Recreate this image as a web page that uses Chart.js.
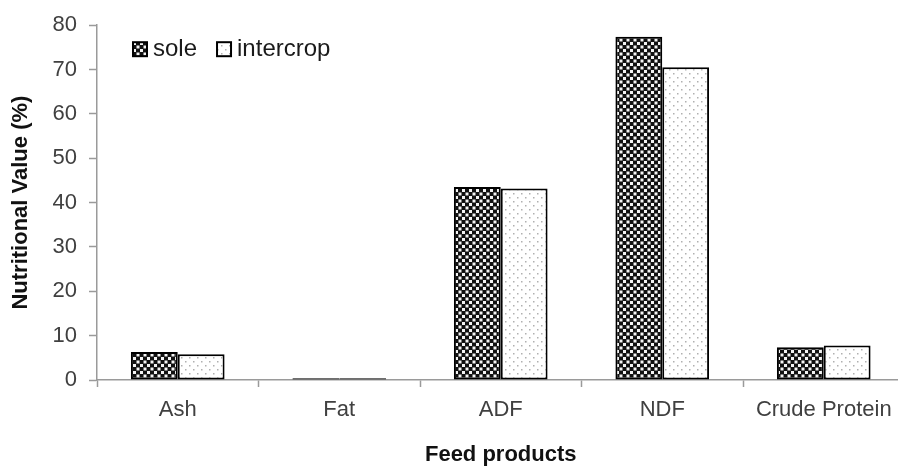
<!DOCTYPE html>
<html>
<head>
<meta charset="utf-8">
<script src="https://cdn.jsdelivr.net/npm/chart.js@4.4.1/dist/chart.umd.min.js"></script>
<style>
  html, body { margin: 0; padding: 0; background: #fff; overflow: hidden; }
  #wrap { position: relative; width: 906px; height: 468px; }
</style>
</head>
<body>
<div id="wrap"><canvas id="chart"></canvas></div>
<script>
// Feed product categories and nutritional values (%)
const categories = ['Ash', 'Fat', 'ADF', 'NDF', 'Crude Protein'];
const seriesNames = ['sole', 'intercrop'];
const soleValues = [6.3, 0.4, 43.5, 77.4, 7.4];
const intercropValues = [5.8, 0.4, 43.2, 70.5, 7.8];
const yTicks = [0, 10, 20, 30, 40, 50, 60, 70, 80];

const FONT = "'Liberation Sans', Arial, sans-serif";

// Dark checkered fill for "sole"
function checkerPattern() {
  const c = document.createElement('canvas');
  c.width = 7; c.height = 7;
  const g = c.getContext('2d');
  g.fillStyle = '#111';
  g.fillRect(0, 0, 7, 7);
  g.fillStyle = '#f4f4f4';
  g.fillRect(0, 0, 3, 3);
  g.fillRect(3.5, 3.5, 3, 3);
  return g.createPattern(c, 'repeat');
}

// Light dotted fill for "intercrop"
function dotPattern() {
  const c = document.createElement('canvas');
  c.width = 8; c.height = 8;
  const g = c.getContext('2d');
  g.fillStyle = '#ffffff';
  g.fillRect(0, 0, 8, 8);
  g.fillStyle = '#b0b0b0';
  g.fillRect(1, 1, 1.5, 1.5);
  g.fillRect(5, 5, 1.5, 1.5);
  return g.createPattern(c, 'repeat');
}

const fills = [checkerPattern(), dotPattern()];

// Legend drawn inside the plot area, top-left
const insideLegend = {
  id: 'insideLegend',
  afterDraw(chart) {
    const ctx = chart.ctx;
    const area = chart.chartArea;
    ctx.save();
    ctx.font = '24px ' + FONT;
    ctx.textBaseline = 'middle';
    let x = area.left + 36;
    const y = area.top + 24;
    const box = 14;
    chart.data.datasets.forEach((ds) => {
      ctx.fillStyle = ds.backgroundColor;
      ctx.fillRect(x, y - box / 2, box, box);
      ctx.lineWidth = 2;
      ctx.strokeStyle = '#000';
      ctx.strokeRect(x, y - box / 2, box, box);
      ctx.fillStyle = '#1a1a1a';
      ctx.fillText(ds.label, x + box + 6, y);
      x += box + 6 + ctx.measureText(ds.label).width + 20;
    });
    ctx.restore();
  }
};

new Chart(document.getElementById('chart'), {
  type: 'bar',
  data: {
    labels: categories,
    datasets: [
      {
        label: seriesNames[0],
        data: soleValues,
        backgroundColor: fills[0],
        borderColor: '#000',
        borderWidth: 2,
        borderSkipped: false
      },
      {
        label: seriesNames[1],
        data: intercropValues,
        backgroundColor: fills[1],
        borderColor: '#000',
        borderWidth: 2,
        borderSkipped: false
      }
    ]
  },
  options: {
    responsive: true,
    maintainAspectRatio: false,
    animation: false,
    devicePixelRatio: 1,
    layout: { padding: { top: 20, right: 1.5, left: 0, bottom: 0 } },
    datasets: { bar: { categoryPercentage: 0.58, barPercentage: 1.0 } },
    plugins: {
      legend: { display: false },
      tooltip: { enabled: false }
    },
    scales: {
      x: {
        afterFit(scale) { scale.height = 88; },
        grid: {
          offset: true,
          drawOnChartArea: false,
          drawTicks: true,
          tickLength: 7,
          tickColor: '#9a9a9a',
          tickWidth: 1.5
        },
        border: { color: '#9a9a9a', width: 1.5 },
        ticks: {
          color: '#404040',
          font: { family: FONT, size: 22 },
          padding: 10,
          maxRotation: 0,
          autoSkip: false
        },
        title: {
          display: true,
          text: 'Feed products',
          color: '#111',
          font: { family: FONT, size: 22, weight: 'bold' },
          padding: { top: 0, bottom: 0 }
        }
      },
      y: {
        min: 0,
        max: 80,
        afterFit(scale) { scale.width = 97; },
        afterBuildTicks(scale) { scale.ticks = yTicks.map(v => ({ value: v })); },
        grid: {
          drawOnChartArea: false,
          drawTicks: true,
          tickLength: 8,
          tickColor: '#9a9a9a',
          tickWidth: 1.5
        },
        border: { color: '#9a9a9a', width: 1.5 },
        ticks: {
          color: '#404040',
          font: { family: FONT, size: 22 },
          padding: 12
        },
        title: {
          display: true,
          text: 'Nutritional Value (%)',
          color: '#111',
          font: { family: FONT, size: 22, weight: 'bold' },
          padding: { top: 8, bottom: 0 }
        }
      }
    }
  },
  plugins: [insideLegend]
});
</script>
</body>
</html>
